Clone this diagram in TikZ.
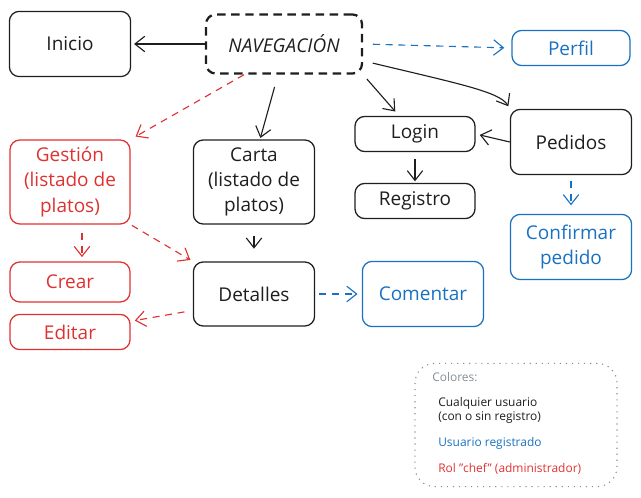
\documentclass[tikz,border=0pt]{standalone}
\usepackage{fontspec}
\setmainfont{Open Sans}
\usetikzlibrary{arrows.meta}
\definecolor{rojo}{HTML}{E03131}
\definecolor{azul}{HTML}{1971C2}
\definecolor{gris}{HTML}{868E96}
\definecolor{tinta}{HTML}{1E1E1E}

\begin{document}
\begin{tikzpicture}[x=0.025cm, y=-0.025cm,
    caja/.style={draw=tinta, text=tinta, rectangle, rounded corners=7pt, line width=0.9pt,
      align=center, inner sep=0pt, font=\fontsize{13.5}{18}\selectfont},
    flecha/.style={-{Straight Barb[length=7pt,width=11pt]}, line width=0.8pt, tinta},
    discont/.style={dash pattern=on 5pt off 4pt},
    leyenda/.style={anchor=west, align=left, inner sep=0pt, font=\fontsize{8.5}{10}\selectfont}]
    \useasboundingbox (0,0) rectangle (641,498);

    % cajas
    \node [caja, minimum width=3.03cm, minimum height=1.63cm] (inicio) at (70,44) {Inicio};
    \node [caja, minimum width=3.9cm, minimum height=1.48cm, line width=1.6pt, dash pattern=on 6pt off 4pt,
      font=\fontsize{13.5}{18}\selectfont\itshape] (nav) at (284,44) {NAVEGACIÓN};
    \node [caja, draw=azul, text=azul, minimum width=2.95cm, minimum height=0.88cm] (perfil) at (571,48) {Perfil};
    \node [caja, minimum width=3cm, minimum height=0.88cm] (login) at (415,134) {Login};
    \node [caja, minimum width=3cm, minimum height=0.88cm] (registro) at (415,201) {Registro};
    \node [caja, minimum width=3.03cm, minimum height=1.63cm] (pedidos) at (571,142) {Pedidos};
    \node [caja, draw=azul, text=azul, minimum width=3.03cm, minimum height=1.63cm] (confirmar) at (571,247) {Confirmar\\pedido};
    \node [caja, draw=rojo, text=rojo, minimum width=3cm, minimum height=2.1cm] (gestion) at (70,182) {Gestión\\(listado de\\platos)};
    \node [caja, minimum width=3.03cm, minimum height=2.1cm] (carta) at (254,182) {Carta\\(listado de\\platos)};
    \node [caja, draw=rojo, text=rojo, minimum width=3cm, minimum height=1cm] (crear) at (70,282) {Crear};
    \node [caja, draw=rojo, text=rojo, minimum width=3cm, minimum height=0.88cm] (editar) at (70,332) {Editar};
    \node [caja, minimum width=3.03cm, minimum height=1.6cm] (detalles) at (254,294) {Detalles};
    \node [caja, draw=azul, text=azul, minimum width=3.03cm, minimum height=1.63cm] (comentar) at (423,294) {Comentar};

    % leyenda
    \node [draw=gris, rectangle, rounded corners=14pt, line width=0.8pt, dash pattern=on 0.8pt off 3.5pt,
      minimum width=5.05cm, minimum height=3.08cm] (colores) at (516,425) {};
    \node [leyenda, text=gris] (titulo) at (432,377) {Colores:};
    \node [leyenda, text=tinta] (cualquiera) at (438,410) {Cualquier usuario\\(con o sin registro)};
    \node [leyenda, text=azul] (registrado) at (438,443) {Usuario registrado};
    \node [leyenda, text=rojo] (chef) at (438,469) {Rol "chef" (administrador)};

    % flechas
    \draw [flecha, shorten >=2pt] (nav) -- (inicio);
    \draw [flecha, azul, discont, shorten <=7pt, shorten >=5pt] (nav.east) -- (perfil.west);
    \draw [flecha, rojo, discont, shorten >=4pt] ([xshift=-1cm]nav.south) -- (gestion.north east);
    \draw [flecha, shorten <=9pt, shorten >=1pt] ([xshift=-0.15cm]nav.south) -- ([xshift=0.15cm]carta.north);
    \draw [flecha, shorten <=4pt, shorten >=4pt] (nav.south east) -- ([xshift=-0.4cm]login.north);
    \draw [flecha, shorten <=7pt, shorten >=2pt] (nav.-12) .. controls (460,84) and (500,92) .. (pedidos.north west);
    \draw [flecha, shorten >=3pt] (pedidos.west) -- (login.east);
    \draw [flecha, shorten <=5pt, shorten >=1pt] (login) -- (registro);
    \draw [flecha, azul, discont, shorten <=4pt, shorten >=6pt] (pedidos) -- (confirmar);
    \draw [flecha, rojo, discont, shorten <=6pt, shorten >=3pt] ([xshift=0.3cm]gestion.south) -- ([xshift=0.3cm]crear.north);
    \draw [flecha, rojo, discont, shorten <=1pt, shorten >=2pt] (gestion.south east) -- (detalles.north west);
    \draw [flecha, shorten <=8pt, shorten >=9pt] (carta) -- (detalles);
    \draw [flecha, rojo, discont, shorten <=6pt, shorten >=3pt] (detalles.-165) -- (editar.10);
    \draw [flecha, azul, discont, shorten <=3pt, shorten >=3pt] (detalles) -- (comentar);
\end{tikzpicture}
\end{document}
